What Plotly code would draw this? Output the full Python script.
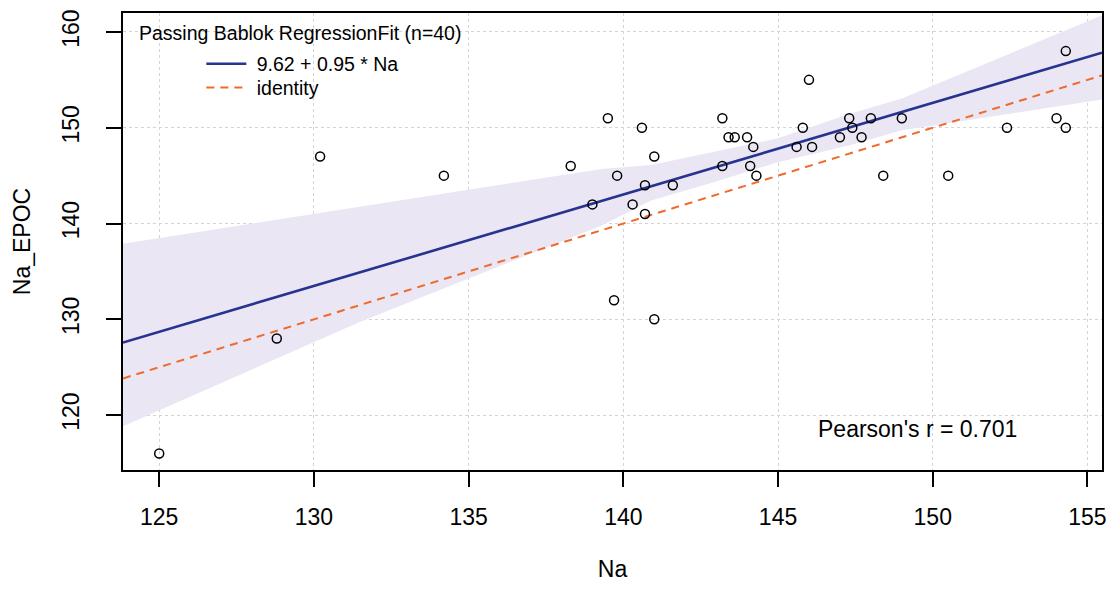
import plotly.graph_objects as go

# ---- data ----
na = [125.0, 128.8, 130.2, 134.2, 138.3, 139.0, 139.5, 139.7, 139.8, 140.3,
      140.6, 140.7, 140.7, 141.0, 141.0, 141.6, 143.2, 143.2, 143.4, 143.6,
      144.0, 144.1, 144.2, 144.3, 145.6, 145.8, 146.0, 146.1, 147.0, 147.3,
      147.4, 147.7, 148.0, 148.4, 149.0, 150.5, 152.4, 154.0, 154.3, 154.3]
na_epoc = [116, 128, 147, 145, 146, 142, 151, 132, 145, 142,
           150, 141, 144, 147, 130, 144, 151, 146, 149, 149,
           149, 146, 148, 145, 148, 150, 155, 148, 149, 151,
           150, 149, 151, 145, 151, 145, 150, 151, 150, 158]

fit_intercept = 9.2
fit_slope = 0.956
fit_label = "9.62 + 0.95 * Na"

band_x = [123.83, 131.5, 139.3, 140.9, 143.0, 145.0, 147.35, 149.0, 155.47]
band_upper = [137.9, 141.8, 145.7, 146.1, 147.5, 148.9, 151.5, 153.05, 161.74]
band_lower = [118.85, 129.74, 139.8, 142.4, 144.4, 146.4, 148.2, 149.74, 152.95]

x_range = [123.83, 155.47]
y_range = [114.27, 161.98]
x_ticks = [125, 130, 135, 140, 145, 150, 155]
y_ticks = [120, 130, 140, 150, 160]

pearson_text = "Pearson's r = 0.701"
legend_title = "Passing Bablok RegressionFit (n=40)"

FONT = "Liberation Sans, Arial, sans-serif"
NB = "\u00a0"

fig = go.Figure()

# confidence band
fig.add_trace(go.Scatter(
    x=band_x + band_x[::-1],
    y=band_upper + band_lower[::-1],
    fill="toself", fillcolor="rgb(234,230,243)",
    line=dict(width=0), mode="lines", hoverinfo="skip", showlegend=False))

# regression line
fig.add_trace(go.Scatter(
    x=x_range, y=[fit_intercept + fit_slope * v for v in x_range],
    mode="lines", line=dict(color="#27348F", width=2.6),
    name=NB + fit_label, legend="legend"))

# identity line
fig.add_trace(go.Scatter(
    x=x_range, y=x_range, mode="lines",
    line=dict(color="#EF6A2B", width=2, dash="8px,6px"),
    name=NB + "identity", legend="legend2"))

# points
fig.add_trace(go.Scatter(
    x=na, y=na_epoc, mode="markers",
    marker=dict(symbol="circle-open", size=9, color="black",
                line=dict(width=1.5, color="black")),
    showlegend=False))

axis_common = dict(
    showline=True, linecolor="black", linewidth=1.5, mirror=True,
    ticks="outside", ticklen=15, tickwidth=1.5, tickcolor="black",
    showgrid=True, gridcolor="#D3D3D3", griddash="dot", gridwidth=1,
    zeroline=False, tickfont=dict(family=FONT, size=23, color="black"),
)

fig.update_xaxes(range=x_range, tickmode="array", tickvals=x_ticks,
                 ticklabelstandoff=11,
                 title=dict(text="Na", font=dict(family=FONT, size=23, color="black"),
                            standoff=32),
                 **axis_common)
fig.update_yaxes(range=y_range, tickmode="array", tickvals=y_ticks,
                 tickangle=-90, ticklabelstandoff=18,
                 title=dict(text="Na_EPOC", font=dict(family=FONT, size=23, color="black"),
                            standoff=21),
                 **axis_common)

fig.add_annotation(text=legend_title, xref="paper", yref="paper",
                   x=0.0146, y=0.9556, xanchor="left", yanchor="middle",
                   showarrow=False, font=dict(family=FONT, size=19.5, color="black"))
fig.add_annotation(text=pearson_text, xref="paper", yref="paper",
                   x=0.708, y=0.0897, xanchor="left", yanchor="middle",
                   showarrow=False, font=dict(family=FONT, size=23, color="black"))

legend_common = dict(xanchor="left", yanchor="top", bgcolor="rgba(0,0,0,0)",
                     font=dict(family=FONT, size=19.5, color="black"),
                     itemwidth=40)

fig.update_layout(
    width=1115, height=589,
    margin=dict(l=123, r=13, t=13, b=119, autoexpand=False),
    plot_bgcolor="white", paper_bgcolor="white",
    font=dict(family=FONT, color="black"),
    legend=dict(x=0.08, y=0.931, **legend_common),
    legend2=dict(x=0.08, y=0.879, **legend_common),
)

fig.write_html("out.html")
